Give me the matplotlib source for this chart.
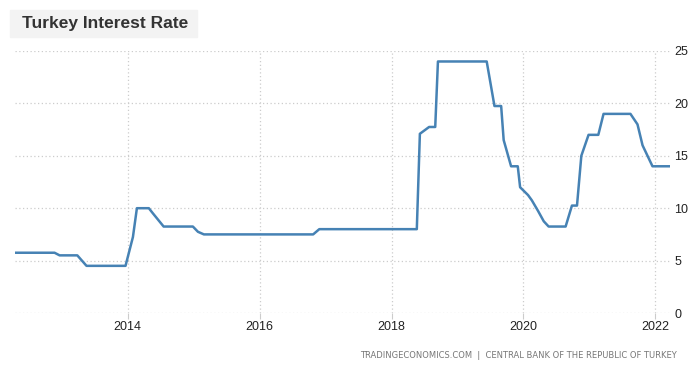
import matplotlib
matplotlib.use("Agg")
import matplotlib.pyplot as plt
import matplotlib.dates as mdates
import pandas as pd

# vertices of the plotted policy-rate line
dates = ["2012-04-17", "2012-11-22", "2012-12-20", "2013-03-28", "2013-05-18",
         "2013-12-20", "2014-01-30", "2014-02-21", "2014-04-28", "2014-05-21",
         "2014-07-19", "2014-12-28", "2015-01-25", "2015-02-27", "2016-10-24",
         "2016-11-27", "2018-05-21", "2018-06-07", "2018-07-28", "2018-08-31",
         "2018-09-15", "2019-06-12", "2019-07-25", "2019-08-31", "2019-09-14",
         "2019-10-25", "2019-12-01", "2019-12-14", "2020-01-27", "2020-02-17",
         "2020-03-22", "2020-04-23", "2020-05-20", "2020-08-22", "2020-09-26",
         "2020-10-24", "2020-11-17", "2020-12-27", "2021-02-19", "2021-03-20",
         "2021-08-16", "2021-09-24", "2021-10-22", "2021-12-16", "2022-03-23"]
rates = [5.75, 5.75, 5.5, 5.5, 4.5,
         4.5, 7.25, 10.0, 10.0, 9.5,
         8.25, 8.25, 7.75, 7.5, 7.5,
         8.0, 8.0, 17.1, 17.75, 17.75,
         24.0, 24.0, 19.75, 19.75, 16.5,
         14.0, 14.0, 12.0, 11.25, 10.75,
         9.75, 8.75, 8.25, 8.25, 10.25,
         10.25, 15.0, 17.0, 17.0, 19.0,
         19.0, 18.0, 16.0, 14.0, 14.0]
x_ticks = ["2014-01-01", "2016-01-01", "2018-01-01", "2020-01-01", "2022-01-01"]
y_ticks = [0, 5, 10, 15, 20, 25]

title = "Turkey Interest Rate"
source = "TRADINGECONOMICS.COM  |  CENTRAL BANK OF THE REPUBLIC OF TURKEY"

W, H = 695, 368
fig = plt.figure(figsize=(W / 100, H / 100), dpi=100)
ax = fig.add_axes([15 / W, (H - 313) / H, (670 - 15) / W, (313 - 51) / H])

t = pd.to_datetime(dates)
ax.plot(t, rates, color="#4682b4", linewidth=1.8, solid_joinstyle="round")

ax.set_xlim(t[0], t[-1])
ax.set_ylim(0, 25)
ax.set_xticks(pd.to_datetime(x_ticks))
ax.xaxis.set_major_formatter(mdates.DateFormatter("%Y"))
ax.set_yticks(y_ticks)
ax.yaxis.tick_right()

ax.grid(True, color="#cccccc", linestyle=(0, (1, 2)), linewidth=0.9)
for s in ax.spines.values():
    s.set_visible(False)
ax.tick_params(axis="x", length=4, color="#cccccc", labelsize=9, labelcolor="#222222", pad=2)
ax.tick_params(axis="y", length=0, labelsize=9, labelcolor="#222222", pad=3)
for lbl in ax.get_xticklabels() + ax.get_yticklabels():
    lbl.set_family("Liberation Sans")

fig.patches.append(plt.Rectangle((10 / W, (H - 37) / H), 187 / W, 27 / H,
                                 transform=fig.transFigure, color="#f3f3f3", zorder=0))
fig.text(22 / W, (H - 23.5) / H, title, fontsize=12.5, fontweight="bold", color="#333333",
         family="Liberation Sans", va="center", ha="left")
fig.text(677 / W, (H - 355) / H, source, fontsize=6.0, color="#777777",
         family="DejaVu Sans", va="center", ha="right")

fig.savefig("out.png", dpi=100)
